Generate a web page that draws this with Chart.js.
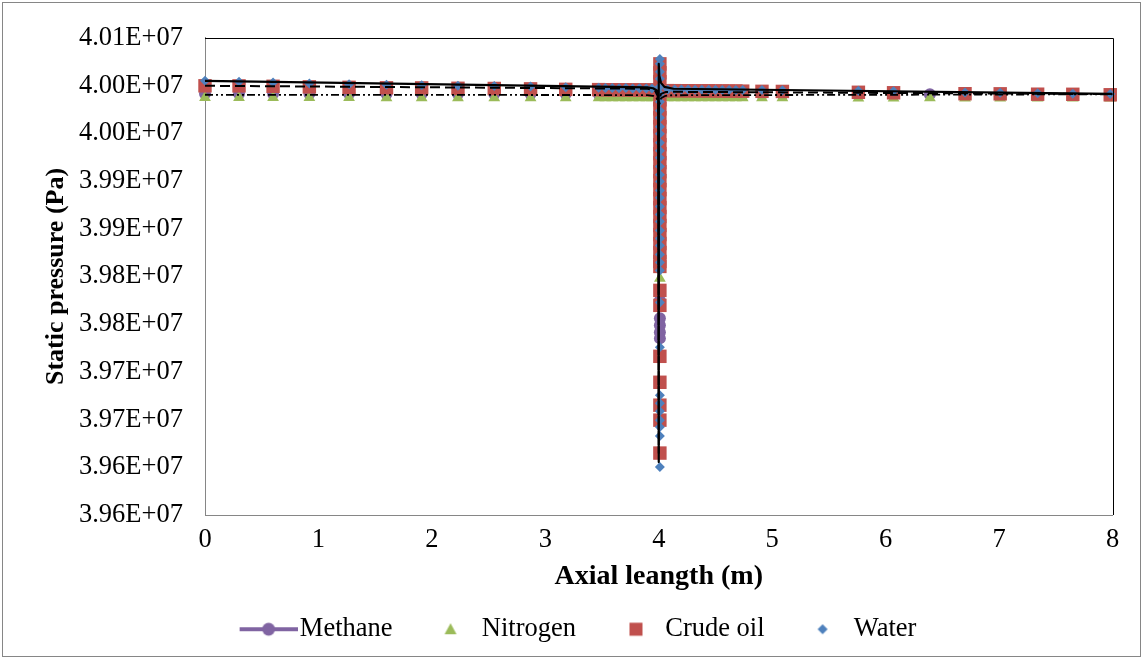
<!DOCTYPE html>
<html>
<head>
<meta charset="utf-8">
<title>Static pressure along the pipe</title>
<script src="https://cdn.jsdelivr.net/npm/chart.js@4.4.1/dist/chart.umd.min.js"></script>
<style>
  html, body { margin: 0; padding: 0; background: #fff; }
  #wrap { position: relative; width: 1144px; height: 660px; }
  #frame { position: absolute; left: 2px; top: 2px; width: 1137px; height: 653px; border: 1px solid #868686; }
  #chart { position: absolute; left: 0; top: 0; }
</style>
</head>
<body>
<div id="wrap">
  <div id="frame"></div>
  <canvas id="chart" width="1144" height="660"></canvas>
</div>
<script>
const FONT = "'Liberation Serif', 'Times New Roman', serif";

// probe stations along the pipe (m)
const axialPos = [0, 0.3, 0.6, 0.92, 1.27, 1.6, 1.91, 2.23, 2.55, 2.87, 3.18,
  3.47, 3.53, 3.59, 3.65, 3.71, 3.77, 3.83, 3.89, 3.94,
  4.08, 4.14, 4.2, 4.26, 4.32, 4.38, 4.44, 4.5, 4.56, 4.62, 4.68, 4.74,
  4.91, 5.09, 5.76, 6.07, 6.39, 6.7, 7.01, 7.34, 7.65, 7.98];

// static pressure at each station (Pa)
const methaneP = [39991500, 39991450, 39991400, 39991400, 39991350, 39991300, 39991300, 39991250, 39991200, 39991200, 39991150,
  39991100, 39991100, 39991050, 39991050, 39991000, 39991000, 39991000, 39990950, 39990950,
  39990950, 39990950, 39990900, 39990900, 39990900, 39990900, 39990900, 39990900, 39990900, 39990900, 39990900, 39990900,
  39990900, 39990900, 39990900, 39990850, 39990900, 39990850, 39990800, 39990800, 39990800, 39990750];
const nitrogenP = [39987500, 39987500, 39987400, 39987400, 39987400, 39987300, 39987300, 39987300, 39987300, 39987200, 39987200,
  39987200, 39987200, 39987200, 39987200, 39987200, 39987200, 39987100, 39987100, 39987100,
  39987100, 39987100, 39987100, 39987100, 39987100, 39987100, 39987100, 39987100, 39987100, 39987100, 39987100, 39987100,
  39987100, 39987100, 39987000, 39987000, 39987100, 39987000, 39987000, 39986900, 39986900, 39986900];
const crudeP = [39999800, 39999700, 39999300, 39998700, 39998200, 39997700, 39997600, 39997200, 39997000, 39996600, 39996100,
  39995800, 39995700, 39995700, 39995600, 39995600, 39995500, 39995500, 39995400, 39995400,
  39994700, 39994700, 39994600, 39994600, 39994500, 39994500, 39994500, 39994400, 39994400, 39994300, 39994300, 39994200,
  39994000, 39993900, 39993000, 39992500, null, 39991500, 39991400, 39991000, 39990900, 39990400];
const waterP = [40005000, 40004000, 40003200, 40002200, 40001400, 40000800, 40000500, 39999800, 39999500, 39999100, 39998200,
  39997700, 39997500, 39997600, 39997300, 39997400, 39997100, 39997200, 39996900, 39997000,
  39995900, 39995900, 39995800, 39995800, 39995700, 39995700, 39995600, 39995600, 39995500, 39995500, 39995400, 39995400,
  39995300, 39995200, 39994500, 39994200, null, 39992800, 39992500, 39992100, 39991400, 39991100];

// readings taken across the junction at x = 4 m (Pa)
const junctionPos = 4.01;
const methaneJunctionP = [39971600, 39923400, 39864900, 39810500, 39774900, 39756100, 39748800, 39741400, 39735100];
const nitrogenJunctionP = [39982000, 39945400, 39908800, 39870100, 39836600, 39813600, 39797900, 39766500];
const crudeJunctionP = [40022800, 40013400, 40004000, 39994600, 39985100, 39975700, 39966300, 39956900, 39947500,
  39938100, 39928700, 39919300, 39909800, 39900400, 39891000, 39881600, 39872200, 39862800, 39853400,
  39843900, 39834500, 39825100, 39815700, 39810500, 39785400, 39769700, 39716300, 39689100, 39665100,
  39649400, 39614900];
const waterJunctionP = [40028000, 40022800, 40014400, 40007100, 39998700, 39991400, 39983100, 39973600, 39966300,
  39956900, 39949600, 39940200, 39931800, 39924500, 39915100, 39906700, 39899400, 39890000, 39882600,
  39873200, 39864900, 39857500, 39848100, 39839800, 39832400, 39823000, 39814600, 39806300, 39772800,
  39725700, 39675500, 39667200, 39658800, 39649400, 39642100, 39632700, 39600200];

// fitted profiles drawn in black
const waterFitX = [0, 3.9, 3.95, 3.98, 3.995, 4.0, 4.0, 4.0, 4.005, 4.02, 4.05, 4.13, 8];
const waterFitP = [40005000, 39998100, 39997200, 39995100, 39991400, 39984100, 39605500, 40022800, 40010300, 40002900, 39998700, 39996700, 39991400];
const crudeFitX = [0, 3.9, 3.94, 3.97, 3.99, 3.998, 4.0, 4.0, 4.003, 4.02, 4.06, 4.12, 8];
const crudeFitP = [39999800, 39996700, 39995800, 39994000, 39989300, 39978900, 39614900, 39973600, 39984100, 39991400, 39993200, 39993500, 39991100];
const gasFitX = [0, 3.9, 3.95, 3.98, 3.995, 4.0, 4.0, 4.0, 4.005, 4.02, 4.06, 4.12, 8];
const gasFitP = [39990400, 39990100, 39989300, 39987200, 39982000, 39973600, 39761300, 39968400, 39979900, 39986700, 39989300, 39989900, 39990900];

// axis ticks
const xTickVals = [0, 1, 2, 3, 4, 5, 6, 7, 8];
const xTickLabels = ['0', '1', '2', '3', '4', '5', '6', '7', '8'];
const yTickVals = [40050000, 40000000, 39950000, 39900000, 39850000, 39800000, 39750000, 39700000, 39650000, 39600000, 39550000];
const yTickLabels = ['4.01E+07', '4.00E+07', '4.00E+07', '3.99E+07', '3.99E+07', '3.98E+07', '3.98E+07', '3.97E+07', '3.97E+07', '3.96E+07', '3.96E+07'];

const seriesNames = ['Methane', 'Nitrogen', 'Crude oil', 'Water'];
const COL = { methane: '#8064A2', nitrogen: '#9BBB59', crude: '#C0504D', water: '#4F81BD' };

const pairs = (xs, ps) => xs.map((x, i) => ({ x, y: ps[i] })).filter(p => p.y !== null);
const atJunction = ps => ps.map(p => ({ x: junctionPos, y: p }));

function markers(label, pts, style, color, radius, order) {
  return {
    label, data: pts, showLine: false, order, clip: false,
    pointStyle: style, pointRadius: radius, pointHoverRadius: radius,
    pointBackgroundColor: color, pointBorderWidth: 0,
    backgroundColor: color, borderColor: color
  };
}

function fitLine(xs, ps, width, dash) {
  return {
    label: '', data: pairs(xs, ps), showLine: true, order: 0,
    pointRadius: 0, borderColor: '#000', backgroundColor: '#000',
    borderWidth: width, borderDash: dash, borderJoinStyle: 'round', tension: 0
  };
}

// small canvases used as legend symbols
function legendIcon(draw) {
  const c = document.createElement('canvas');
  c.width = 88; c.height = 20;
  draw(c.getContext('2d'));
  return c;
}
const icons = [
  legendIcon(g => {
    g.strokeStyle = COL.methane; g.lineWidth = 4;
    g.beginPath(); g.moveTo(30, 10); g.lineTo(88, 10); g.stroke();
    g.fillStyle = COL.methane;
    g.beginPath(); g.arc(59, 10, 6.5, 0, Math.PI * 2); g.fill();
  }),
  legendIcon(g => {
    g.fillStyle = COL.nitrogen;
    g.beginPath(); g.moveTo(59, 4); g.lineTo(65, 15); g.lineTo(53, 15); g.closePath(); g.fill();
  }),
  legendIcon(g => {
    g.fillStyle = COL.crude;
    g.fillRect(54.5, 3.5, 13, 13);
  }),
  legendIcon(g => {
    g.fillStyle = COL.water;
    g.beginPath(); g.moveTo(59, 5); g.lineTo(64, 10); g.lineTo(59, 15); g.lineTo(54, 10); g.closePath(); g.fill();
  })
];

// top and right edges of the plot frame
const plotFrame = {
  id: 'plotFrame',
  afterDatasetsDraw(chart) {
    const { ctx, chartArea: a } = chart;
    ctx.save();
    ctx.strokeStyle = '#000';
    ctx.lineWidth = 1;
    ctx.beginPath();
    ctx.moveTo(a.left, Math.round(a.top) + 0.5);
    ctx.lineTo(Math.round(a.right) + 0.5, Math.round(a.top) + 0.5);
    ctx.lineTo(Math.round(a.right) + 0.5, a.bottom);
    ctx.stroke();
    ctx.restore();
  }
};

const tickFont = { family: FONT, size: 26.5 };

new Chart(document.getElementById('chart'), {
  type: 'scatter',
  data: {
    datasets: [
      markers(seriesNames[0], pairs(axialPos, methaneP).concat(atJunction(methaneJunctionP)), 'circle', COL.methane, 6, 4),
      markers(seriesNames[1], pairs(axialPos, nitrogenP).concat(atJunction(nitrogenJunctionP)), 'triangle', COL.nitrogen, 6.8, 3),
      markers(seriesNames[2], pairs(axialPos, crudeP).concat(atJunction(crudeJunctionP)), 'rect', COL.crude, 9.5, 2),
      markers(seriesNames[3], pairs(axialPos, waterP).concat(atJunction(waterJunctionP)), 'rectRot', COL.water, 5, 1),
      fitLine(waterFitX, waterFitP, 2.2, []),
      fitLine(crudeFitX, crudeFitP, 2, [10, 5]),
      fitLine(gasFitX, gasFitP, 1.8, [8, 3, 2, 3, 2, 3])
    ]
  },
  options: {
    responsive: false,
    animation: false,
    events: [],
    layout: { padding: { left: 0, right: 7, top: 37, bottom: 7.5 } },
    scales: {
      x: {
        type: 'linear', min: 0, max: 8,
        afterBuildTicks: s => { s.ticks = xTickVals.map(v => ({ value: v })); },
        afterFit: s => { s.height = 91; },
        grid: { display: false, drawTicks: false },
        border: { display: true, color: '#868686', width: 1 },
        ticks: { font: tickFont, color: '#000', padding: 9, maxRotation: 0,
          callback: v => xTickLabels[xTickVals.indexOf(v)] },
        title: { display: true, text: 'Axial leangth (m)', font: { family: FONT, size: 28, weight: 'bold' },
          color: '#000', padding: { top: 0, bottom: 12 } }
      },
      y: {
        type: 'linear', min: 39550000, max: 40050000,
        afterBuildTicks: s => { s.ticks = yTickVals.map(v => ({ value: v })); },
        afterFit: s => { s.width = 205; },
        grid: { display: false, drawTicks: false },
        border: { display: true, color: '#868686', width: 1 },
        ticks: { font: tickFont, color: '#000', padding: 22,
          callback: v => yTickLabels[yTickVals.indexOf(v)] },
        title: { display: true, text: 'Static pressure (Pa)', font: { family: FONT, size: 26, weight: 'bold' },
          color: '#000', padding: { top: 41, bottom: 0 } }
      },
      // empty right-hand margin beside the plot
      yRight: {
        type: 'linear', position: 'right', display: true,
        afterFit: s => { s.width = 24.5; },
        grid: { display: false, drawTicks: false },
        border: { display: false },
        ticks: { display: false }
      }
    },
    plugins: {
      tooltip: { enabled: false },
      legend: {
        position: 'bottom',
        labels: {
          usePointStyle: true,
          pointStyleWidth: 66,
          padding: 10,
          font: tickFont,
          color: '#000',
          generateLabels: chart => Chart.defaults.plugins.legend.labels.generateLabels(chart)
            .map(item => Object.assign(item, { pointStyle: icons[item.datasetIndex] })),
          filter: item => item.datasetIndex < seriesNames.length,
          sort: (a, b) => a.datasetIndex - b.datasetIndex
        }
      }
    }
  },
  plugins: [plotFrame]
});
</script>
</body>
</html>
